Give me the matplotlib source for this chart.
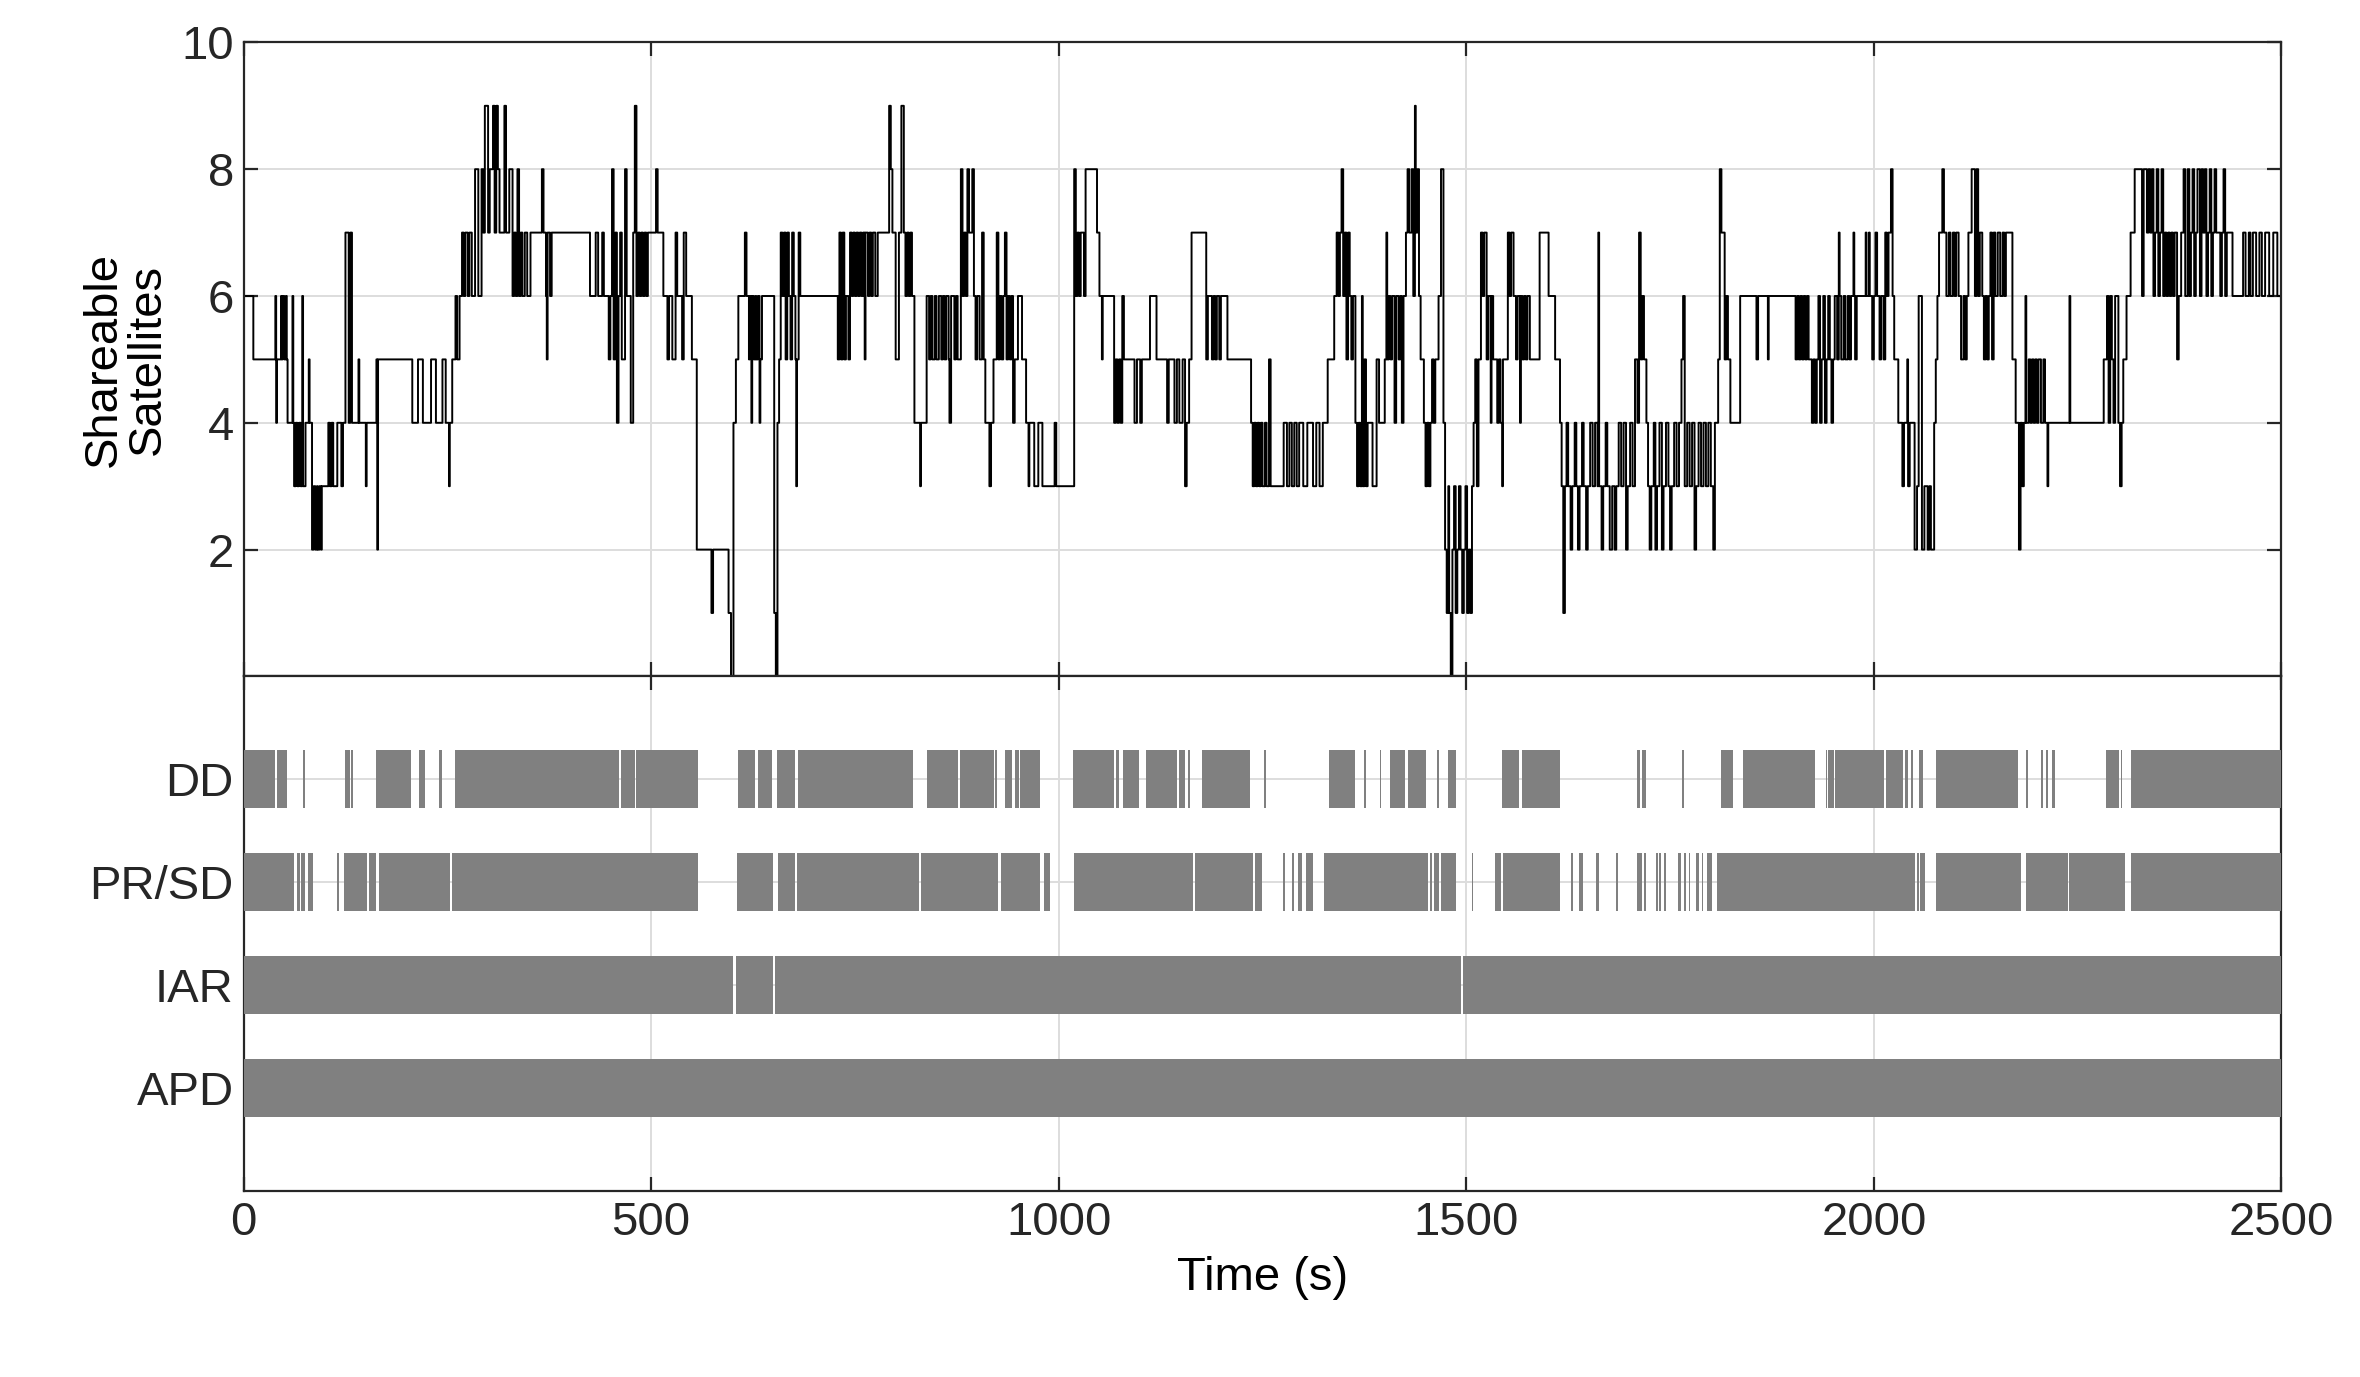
import matplotlib
matplotlib.use("Agg")
import matplotlib.pyplot as plt

plt.rcParams['font.family'] = ['Liberation Sans', 'DejaVu Sans']

# shareable satellites: step start times (s) and counts
sat_time = [0, 12, 39, 40, 41, 46, 47, 48, 50, 52, 53, 54, 60, 61, 62, 64, 66, 68, 70, 72, 73, 76, 80, 81,
            84, 86, 88, 90, 91, 93, 95, 96, 104, 106, 108, 110, 115, 120, 122, 125, 129, 131, 133, 141, 142,
            150, 151, 163, 164, 165, 207, 214, 220, 230, 236, 244, 248, 252, 253, 256, 260, 262, 265,
            268, 270, 272, 275, 277, 280, 284, 288, 292, 294, 296, 300, 302, 306, 308, 310, 312, 314,
            320, 322, 326, 330, 332, 334, 336, 338, 340, 342, 345, 348, 352, 366, 368, 371, 372, 373, 376, 378,
            425, 432, 435, 440, 442, 448, 450, 452, 454, 456, 458, 460, 462, 464, 468, 470, 475, 478, 480, 482,
            484, 486, 488, 490, 492, 494, 496, 506, 508, 515, 520, 522, 526, 530, 532, 538, 540, 543, 550, 556,
            574, 576, 595, 598, 601, 604, 607, 615, 617, 620, 621, 623, 624, 626, 628,
            629, 631, 633, 634, 636, 651, 653, 655, 657, 659, 661, 663, 665, 667, 669, 671, 673, 675, 677, 678,
            679, 681, 683, 729, 731, 733, 735, 737, 739, 742, 744, 746, 748, 750, 752, 754, 756, 758, 760, 762,
            763, 766, 768, 770, 772, 775, 778, 792, 794, 796, 800, 804, 807, 810, 812, 814, 816, 818, 820, 823,
            830, 831, 838, 841, 843, 845, 848, 850, 853, 856, 858, 860, 862, 865, 866, 868, 872, 874, 876, 880,
            882, 884, 886, 888, 890, 894, 896, 898, 900, 903, 906, 908, 910, 915, 917, 920, 924, 926, 928, 930,
            932, 934, 936, 938, 940, 942, 944, 946, 950, 955, 960, 963, 964, 970, 975, 980, 995, 997,
            1019, 1021, 1023, 1025, 1027, 1031, 1033, 1047, 1050, 1053, 1054, 1068, 1070, 1072, 1074, 1076,
            1078, 1080, 1093, 1096, 1100, 1102, 1112, 1120, 1133, 1135, 1142, 1145, 1148, 1152, 1155, 1157,
            1160, 1163, 1181, 1183, 1188, 1190, 1192, 1194, 1197, 1199, 1207, 1236, 1238, 1240, 1242, 1244,
            1246, 1248, 1250, 1253, 1255,
            1258, 1260, 1276, 1280, 1283, 1286, 1289, 1292, 1295, 1300, 1305, 1312, 1316, 1320, 1324, 1330,
            1338, 1341, 1343, 1345, 1347, 1349, 1351, 1353, 1355, 1357, 1359, 1361, 1364, 1366, 1368, 1370,
            1372, 1373, 1375, 1377, 1379, 1385, 1390, 1393, 1400, 1402, 1403, 1405, 1407, 1409, 1412, 1414,
            1417, 1419, 1421, 1423, 1426, 1428, 1430, 1433, 1435, 1437, 1438, 1440, 1442, 1444, 1448, 1450,
            1452, 1454, 1456, 1458, 1460, 1462, 1466, 1469, 1472, 1474, 1476, 1478, 1479, 1481, 1483, 1485,
            1487, 1489, 1491, 1493, 1495, 1497, 1499, 1501, 1503, 1505, 1507, 1509, 1511, 1513, 1515, 1518,
            1520, 1522, 1525, 1527, 1530, 1531, 1533,
            1536, 1538, 1540, 1542, 1544, 1545, 1551, 1553, 1555, 1558, 1561, 1563, 1566, 1567, 1569, 1571,
            1573, 1575, 1578, 1590, 1601, 1609, 1615, 1617, 1619, 1621, 1623, 1625, 1628, 1630, 1633, 1635,
            1637, 1639, 1642, 1644, 1647, 1649, 1652, 1655, 1658, 1661, 1662, 1663, 1666, 1668, 1671, 1673,
            1676, 1679, 1682, 1684, 1687, 1690, 1693, 1696, 1698, 1701, 1704, 1707, 1710, 1712, 1714, 1716,
            1718, 1721, 1723, 1725, 1727, 1730, 1732, 1734, 1737, 1740, 1742, 1745, 1748, 1750, 1752, 1755,
            1758, 1761, 1764, 1766, 1768, 1771, 1774, 1777, 1780, 1782, 1785, 1788, 1791, 1794, 1797, 1800,
            1803, 1805, 1809, 1811, 1813, 1817, 1819, 1821, 1824, 1836, 1856, 1858, 1870, 1871,
            1904, 1906, 1908, 1910, 1912, 1914, 1916, 1918, 1920, 1924, 1926, 1928, 1930, 1932, 1934, 1936,
            1938, 1940, 1942, 1944, 1946, 1948, 1950, 1952, 1955, 1957, 1958, 1960, 1963, 1965, 1968, 1970,
            1972, 1975, 1976, 1977, 1979, 1990, 1991, 1994, 1995, 1998, 2000, 2002, 2004, 2007, 2009, 2012,
            2014, 2016, 2018, 2021, 2023, 2025, 2030, 2035, 2037, 2041, 2042, 2044, 2050, 2053, 2055, 2059,
            2062, 2066, 2068, 2070, 2074, 2076, 2078, 2080, 2084, 2086, 2089, 2092, 2094, 2097, 2099, 2101,
            2104, 2107, 2110, 2112, 2114, 2116, 2120, 2124, 2126, 2128, 2130, 2133, 2135, 2137, 2139, 2141,
            2143, 2145, 2147, 2149, 2152, 2155, 2158, 2160, 2162, 2170, 2174, 2178, 2180, 2182, 2184, 2186,
            2187, 2190, 2192, 2194, 2196, 2198, 2200, 2202, 2205, 2208, 2210, 2213, 2214, 2240, 2241, 2282,
            2286, 2288, 2290, 2292, 2294, 2296, 2300, 2302, 2304, 2306, 2310, 2315, 2320, 2329, 2331, 2335,
            2337, 2339, 2341, 2343, 2345, 2347, 2349, 2351, 2353, 2355, 2357, 2359, 2361, 2363, 2365, 2367,
            2369, 2372, 2374, 2377, 2380, 2382, 2385, 2387, 2389, 2391, 2393, 2395, 2397, 2400, 2402, 2404,
            2406, 2408, 2410, 2412, 2414, 2416, 2418, 2420, 2425, 2427, 2429, 2431, 2433, 2440, 2453, 2456,
            2460, 2462, 2465, 2469, 2473, 2476, 2480, 2485, 2490, 2495, 2500]
sat_count = [6, 5, 6, 4, 5, 6, 5, 6, 5, 6, 5, 4, 6, 4, 3, 4, 3, 4, 3, 6, 3, 4, 5, 4,
             2, 3, 2, 3, 2, 3, 2, 3, 4, 3, 4, 3, 4, 3, 4, 7, 4, 7, 4, 5, 4,
             3, 4, 5, 2, 5, 4, 5, 4, 5, 4, 5, 4, 3, 4, 5, 6, 5, 6,
             7, 6, 7, 6, 7, 6, 8, 6, 8, 7, 9, 7, 8, 9, 7, 9, 8, 7,
             9, 7, 8, 6, 7, 6, 8, 6, 7, 6, 7, 6, 7, 8, 7, 6, 5, 7, 6, 7,
             6, 7, 6, 7, 6, 5, 6, 8, 5, 7, 4, 6, 7, 5, 8, 6, 4, 7, 9, 6,
             7, 6, 7, 6, 7, 6, 7, 8, 7, 6, 5, 6, 5, 7, 6, 5, 7, 6, 5, 2,
             1, 2, 1, 0, 4, 5, 6, 7, 6, 5, 6, 4, 6, 5, 6,
             5, 6, 4, 5, 6, 1, 0, 4, 5, 7, 6, 7, 5, 7, 6, 5, 7, 6, 5, 3,
             5, 7, 6, 5, 7, 5, 7, 5, 6, 5, 7, 6, 7, 6, 7, 6, 7, 6, 7, 5,
             7, 6, 7, 6, 7, 6, 7, 9, 8, 7, 5, 7, 9, 7, 6, 7, 6, 7, 6, 4,
             3, 4, 6, 5, 6, 5, 6, 5, 6, 5, 6, 5, 6, 5, 4, 6, 5, 6, 5, 8,
             6, 7, 6, 8, 7, 8, 6, 5, 6, 5, 7, 5, 4, 3, 4, 5, 7, 5, 6, 5,
             6, 7, 5, 6, 5, 6, 4, 5, 6, 5, 4, 3, 4, 3, 4, 3, 4, 3,
             8, 6, 7, 6, 7, 6, 8, 7, 6, 5, 6, 4, 5, 4, 5, 4,
             6, 5, 4, 5, 4, 5, 6, 5, 4, 5, 4, 5, 4, 5, 3, 4,
             5, 7, 5, 6, 5, 6, 5, 6, 5, 6, 5, 4, 3, 4, 3, 4,
             3, 4, 3, 4, 3,
             5, 3, 4, 3, 4, 3, 4, 3, 4, 3, 4, 3, 4, 3, 4, 5,
             6, 7, 6, 7, 8, 6, 7, 5, 7, 6, 5, 6, 4, 3, 4, 3,
             6, 3, 5, 3, 4, 3, 5, 4, 5, 7, 5, 6, 5, 6, 4, 6,
             5, 6, 4, 6, 7, 8, 7, 8, 6, 9, 7, 8, 6, 5, 4, 3,
             4, 3, 4, 5, 4, 5, 6, 8, 4, 2, 1, 3, 1, 0, 2, 3,
             1, 2, 3, 2, 1, 2, 3, 1, 2, 1, 3, 4, 5, 3, 5, 7,
             6, 7, 5, 6, 4, 6, 5,
             5, 4, 5, 4, 3, 5, 7, 6, 7, 6, 5, 6, 4, 6, 5, 6,
             5, 6, 5, 7, 6, 5, 4, 3, 1, 3, 4, 3, 2, 3, 4, 3,
             2, 3, 4, 3, 2, 3, 4, 3, 4, 3, 7, 3, 2, 3, 4, 3,
             2, 3, 2, 3, 4, 3, 4, 2, 3, 4, 3, 5, 4, 7, 5, 6,
             5, 4, 3, 2, 3, 4, 2, 3, 4, 2, 3, 4, 3, 2, 3, 4,
             3, 4, 5, 6, 3, 4, 3, 4, 2, 3, 4, 3, 4, 3, 4, 3,
             2, 4, 5, 8, 7, 5, 6, 5, 4, 6, 5, 6, 5, 6,
             5, 6, 5, 6, 5, 6, 5, 6, 5, 4, 5, 4, 5, 6, 4, 5,
             6, 4, 5, 6, 5, 4, 5, 6, 5, 7, 6, 5, 6, 5, 6, 5,
             6, 7, 6, 5, 6, 7, 6, 7, 6, 5, 6, 7, 6, 5, 6, 5,
             7, 6, 7, 8, 6, 5, 4, 3, 4, 5, 3, 4, 2, 3, 6, 2,
             3, 2, 3, 2, 4, 5, 6, 7, 8, 7, 6, 7, 6, 7, 6, 7,
             6, 5, 6, 5, 6, 7, 8, 6, 8, 6, 7, 6, 5, 6, 5, 6,
             7, 5, 7, 6, 7, 6, 7, 6, 7, 5, 4, 2, 4, 3, 4, 6,
             4, 5, 4, 5, 4, 5, 4, 5, 4, 5, 4, 3, 4, 6, 4, 5,
             6, 4, 6, 5, 4, 6, 4, 3, 4, 5, 6, 7, 8, 6, 8, 7,
             8, 7, 8, 6, 7, 8, 6, 7, 8, 6, 7, 6, 7, 6, 7, 6,
             7, 5, 6, 7, 8, 6, 8, 6, 7, 8, 6, 7, 8, 6, 8, 7,
             8, 6, 7, 8, 6, 7, 8, 7, 6, 7, 8, 6, 7, 6, 7, 6,
             7, 6, 7, 6, 7, 6, 7, 6, 7, 6, 6]

# availability intervals (start, end) in seconds
dd_intervals = [(0, 39), (41, 53), (73, 75), (125, 130), (132, 134), (163, 206), (215, 222), (240, 244),
                (260, 460), (463, 480), (482, 557), (607, 628), (631, 648), (655, 676), (680, 821),
                (838, 877), (879, 921), (922, 924), (934, 943), (946, 951), (953, 968), (969, 977),
                (1018, 1068), (1070, 1074), (1079, 1098), (1107, 1145), (1147, 1155), (1159, 1161),
                (1176, 1235), (1252, 1254), (1331, 1363), (1375, 1377), (1394, 1396), (1407, 1425),
                (1429, 1451), (1464, 1467), (1477, 1488), (1544, 1565), (1568, 1615), (1710, 1713),
                (1716, 1720), (1765, 1767), (1812, 1827), (1839, 1928), (1941, 1943), (1944, 1947),
                (1948, 1951), (1952, 2013), (2015, 2036), (2038, 2042), (2046, 2048), (2056, 2060),
                (2076, 2177), (2187, 2189), (2205, 2208), (2211, 2214), (2218, 2222), (2285, 2301),
                (2303, 2305), (2316, 2500)]
prsd_intervals = [(0, 62), (65, 69), (71, 75), (79, 85), (115, 117), (123, 151), (154, 163), (166, 253),
                  (256, 557), (605, 649), (656, 676), (679, 829), (831, 925), (929, 977), (982, 989),
                  (1019, 1165), (1167, 1238), (1241, 1249), (1275, 1278), (1286, 1289), (1294, 1298),
                  (1304, 1312), (1325, 1453), (1456, 1458), (1460, 1467), (1469, 1488), (1507, 1508),
                  (1535, 1542), (1545, 1615), (1628, 1631), (1638, 1643), (1659, 1663), (1684, 1686),
                  (1710, 1716), (1718, 1721), (1733, 1735), (1737, 1739), (1743, 1745), (1760, 1764),
                  (1767, 1769), (1773, 1775), (1782, 1785), (1789, 1791), (1795, 1802), (1807, 2050),
                  (2053, 2055), (2057, 2063), (2076, 2180), (2187, 2238), (2240, 2308), (2315, 2500)]
iar_intervals = [(0, 600), (604, 650), (652, 1494), (1496, 2500)]
apd_intervals = [(0, 2500)]

method_labels = ['APD', 'IAR', 'PR/SD', 'DD']
method_intervals = [apd_intervals, iar_intervals, prsd_intervals, dd_intervals]

fig = plt.figure(figsize=(11.8, 6.885), dpi=200)
ax1 = fig.add_axes([0.1032, 0.5088, 0.8635, 0.4604])
ax2 = fig.add_axes([0.1032, 0.1352, 0.8635, 0.3736], sharex=ax1)

ax1.step(sat_time, sat_count, where='post', color='black', linewidth=0.7)
ax1.set_xlim(0, 2500)
ax1.set_ylim(0, 10)
ax1.set_yticks([2, 4, 6, 8, 10])
ax1.set_ylabel('Shareable\nSatellites', fontsize=17, linespacing=1.0)
ax1.tick_params(labelbottom=False)

for i, ivs in enumerate(method_intervals):
    y = i + 1
    ax2.broken_barh([(a, b - a) for a, b in ivs], (y - 0.28, 0.56),
                    facecolors='#808080', edgecolor='none', zorder=3)
ax2.set_ylim(0, 5)
ax2.set_yticks([1, 2, 3, 4])
ax2.set_yticklabels(method_labels)
ax2.set_xticks([0, 500, 1000, 1500, 2000, 2500])
ax2.set_xlabel('Time (s)', fontsize=17)

for ax in (ax1, ax2):
    ax.grid(True, color='#dddddd', linewidth=0.7)
    ax.set_axisbelow(True)
    ax.tick_params(direction='in', top=True, right=True, labelsize=17, length=5, width=0.8, colors='#262626')
    for s in ax.spines.values():
        s.set_color('#262626')
        s.set_linewidth(0.8)

fig.savefig('out.png', dpi=200)
